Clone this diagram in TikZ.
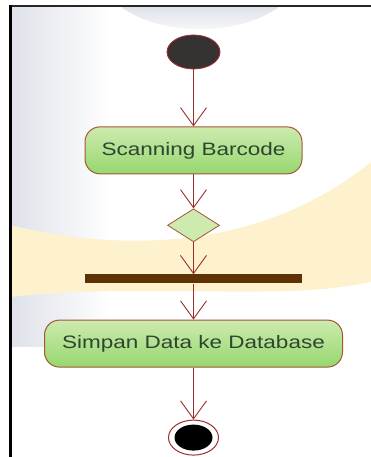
\documentclass[tikz,border=0pt]{standalone}
\usepackage{fontspec}
\newfontfamily\labelfont[FakeStretch=1.25]{Liberation Sans}
\usetikzlibrary{positioning, backgrounds, shapes.geometric, arrows.meta}

\definecolor{flowred}{RGB}{160,45,45}
\definecolor{boxedge}{RGB}{165,85,55}
\definecolor{boxtop}{RGB}{205,235,175}
\definecolor{boxbottom}{RGB}{150,215,110}
\definecolor{labelgreen}{RGB}{45,70,48}
\definecolor{barbrown}{RGB}{95,50,5}
\definecolor{bandyellow}{RGB}{253,242,205}
\definecolor{haze}{RGB}{222,225,233}

\begin{document}
\begin{tikzpicture}[x=1pt, y=1pt, >={Straight Barb[length=18pt, width=26pt]},
  flow/.style={->, draw=flowred, line width=0.9pt},
  activity/.style={draw=boxedge, line width=1pt, rounded corners=15pt, top color=boxtop, bottom color=boxbottom,
    minimum height=47pt, inner sep=0pt, font=\labelfont\fontsize{18}{20}\selectfont, text=labelgreen},
  choice/.style={draw=boxedge, line width=0.8pt, diamond, fill=boxtop, minimum width=52pt, minimum height=33pt, inner sep=0pt},
  syncbar/.style={fill=barbrown, minimum width=217pt, minimum height=9pt, inner sep=0pt},
  initial/.style={draw=flowred, line width=0.8pt, ellipse, fill={rgb,255:red,55;green,50;blue,50},
    minimum width=53pt, minimum height=34pt, inner sep=0pt},
  final/.style={draw=flowred, line width=1pt, ellipse, fill=white, minimum width=50pt, minimum height=35pt, inner sep=0pt,
    path picture={\fill[black] (path picture bounding box.center) ellipse (19pt and 13pt);}}]
  \useasboundingbox (0,0) rectangle (371,457);

  % Backdrop: white page, grey haze on the left, a pale yellow band
  \fill[white] (0,0) rectangle (371,457);
  \shade[left color=haze, right color=white] (10,110) rectangle (110,451);
  \shade[top color=haze, bottom color=white] (120,451) .. controls (160,420) and (240,420) .. (280,451) -- cycle;
  \fill[bandyellow] (10,232) .. controls (120,205) and (260,205) .. (371,295) -- (371,175) .. controls (280,155) and (150,175) .. (10,160) -- cycle;
  \fill[white] (10,0) rectangle (371,110);

  \node[initial] (start) at (193.5,405) {};
  \node[activity, minimum width=217pt, below=57pt of start] (scan) {Scanning Barcode};
  \node[choice, below=34pt of scan] (check) {};
  \node[syncbar, below=32pt of check] (fork) {};
  \node[activity, minimum width=298pt, below=36pt of fork] (save) {Simpan Data ke Database};
  \node[final, below=52pt of save] (stop) {};

  \draw[flow] (start) -- (scan);
  \draw[flow] (scan) -- (check);
  \draw[flow] (check) -- (fork);
  \draw[flow] (fork) -- (save);
  \draw[flow] (save) -- (stop);

  % Frame edges
  \draw[line width=2pt, draw=black!85] (10,451) -- (371,451);
  \draw[line width=3pt, draw=black] (10,452) -- (10,0);
\end{tikzpicture}
\end{document}
